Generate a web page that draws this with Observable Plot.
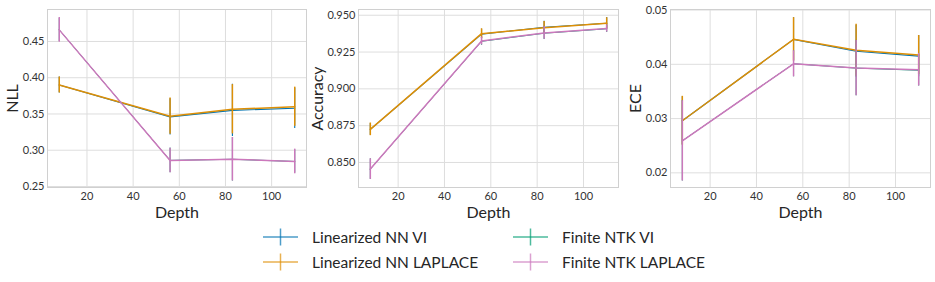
<!DOCTYPE html>
<html><head><meta charset="utf-8">
<script src="https://cdn.jsdelivr.net/npm/d3@7"></script>
<script src="https://cdn.jsdelivr.net/npm/@observablehq/plot@0.6"></script>
<style>
body{margin:0;background:#fff;}
#root{position:relative;width:935px;height:282px;font-family:Lato,sans-serif;color:#262626;}
.panel{position:absolute;top:0;}
.leg{position:absolute;display:flex;align-items:center;font-size:15.5px;height:20px;white-space:nowrap;}
.leg svg{margin-right:14px;}
</style></head><body><div id="root"></div>
<script>
// ---- data ----
const depths = [8, 56, 83, 110];
const methods = ["Linearized NN VI", "Linearized NN LAPLACE", "Finite NTK VI", "Finite NTK LAPLACE"];
const colors = ["#0173b2", "#de8f05", "#029e73", "#cc78bc"];
const xTicks = [20, 40, 60, 80, 100];

// one row per method, one value per depth
const nllMeans = [
  [0.390, 0.346, 0.355, 0.358],
  [0.390, 0.347, 0.3565, 0.360],
  [0.466, 0.286, 0.2875, 0.2845],
  [0.466, 0.2858, 0.2876, 0.2845]
];
const nllErrs = [
  [0.011, 0.025, 0.036, 0.028],
  [0.011, 0.025, 0.034, 0.027],
  [0.016, 0.017, 0.030, 0.016],
  [0.017, 0.017, 0.030, 0.017]
];
const accMeans = [
  [0.8725, 0.9372, 0.9418, 0.9446],
  [0.8725, 0.9375, 0.9415, 0.9445],
  [0.8455, 0.9323, 0.9378, 0.9408],
  [0.8455, 0.9325, 0.9380, 0.9410]
];
const accErrs = [
  [0.0040, 0.0033, 0.0042, 0.0038],
  [0.0043, 0.0033, 0.0043, 0.0038],
  [0.0070, 0.0027, 0.0043, 0.0025],
  [0.0070, 0.0027, 0.0043, 0.0025]
];
const eceMeans = [
  [0.0296, 0.0446, 0.0424, 0.0415],
  [0.0296, 0.0446, 0.0426, 0.0417],
  [0.0259, 0.0401, 0.0393, 0.0389],
  [0.0259, 0.0401, 0.0393, 0.0390]
];
const eceErrs = [
  [0.0044, 0.0040, 0.0048, 0.0038],
  [0.0045, 0.0040, 0.0048, 0.0036],
  [0.0074, 0.0024, 0.0051, 0.0029],
  [0.0074, 0.0024, 0.0051, 0.0030]
];
const nllTicks = [0.25, 0.30, 0.35, 0.40, 0.45];
const accTicks = [0.850, 0.875, 0.900, 0.925, 0.950];
const eceTicks = [0.02, 0.03, 0.04, 0.05];

// ---- styles ----
const widths = [1.1, 1.5, 1.0, 1.5];

// ---- layout ----
const panels = [
  {label: "NLL", means: nllMeans, errs: nllErrs, ticks: nllTicks, fmt: ".2f", domain: [0.2486, 0.4941], left: 0, width: 310, ml: 47, mr: 4, ldx: -35},
  {label: "Accuracy", means: accMeans, errs: accErrs, ticks: accTicks, fmt: ".3f", domain: [0.8330, 0.9539], left: 310, width: 312, ml: 48, mr: 4, ldx: -41},
  {label: "ECE", means: eceMeans, errs: eceErrs, ticks: eceTicks, fmt: ".2f", domain: [0.0173, 0.0501], left: 622, width: 313, ml: 48, mr: 5, ldx: -35}
];

const root = document.getElementById("root");

for (const p of panels) {
  const rows = [];
  methods.forEach((m, i) => depths.forEach((d, j) => rows.push({method: m, depth: d, mean: p.means[i][j], err: p.errs[i][j]})));
  const marks = [
    Plot.gridX(xTicks, {stroke: "#dedede", strokeOpacity: 1, strokeWidth: 1}),
    Plot.gridY(p.ticks, {stroke: "#dedede", strokeOpacity: 1, strokeWidth: 1}),
    Plot.frame({stroke: "#d0d0d0", strokeWidth: 1}),
    Plot.axisX(xTicks, {tickSize: 0, tickPadding: 5, label: null, fontSize: 11, fill: "#333"}),
    Plot.axisY(p.ticks, {tickSize: 0, tickPadding: 3, tickFormat: d3.format(p.fmt), label: null, fontSize: 11, fill: "#333"})
  ];
  methods.forEach((m, i) => {
    const sub = rows.filter(r => r.method === m);
    marks.push(Plot.ruleX(sub, {x: "depth", y1: r => r.mean - r.err, y2: r => r.mean + r.err, stroke: "method", strokeWidth: widths[i]}));
    marks.push(Plot.line(sub, {x: "depth", y: "mean", stroke: "method", strokeWidth: widths[i]}));
  });
  marks.push(Plot.text([p.label], {frameAnchor: "left", dx: p.ldx, rotate: -90, textAnchor: "middle", lineAnchor: "middle", fontSize: 16, fill: "#262626"}));
  marks.push(Plot.text(["Depth"], {frameAnchor: "bottom", dy: 25, textAnchor: "middle", lineAnchor: "middle", fontSize: 16, fill: "#262626"}));

  const chart = Plot.plot({
    width: p.width, height: 230,
    marginTop: 9, marginBottom: 43, marginLeft: p.ml, marginRight: p.mr,
    style: {fontFamily: "Lato, sans-serif", background: "transparent", overflow: "visible"},
    x: {domain: [2.9, 115.1]},
    y: {domain: p.domain},
    color: {domain: methods, range: colors},
    marks
  });
  chart.classList.add("panel");
  chart.style.left = p.left + "px";
  root.appendChild(chart);
}

// ---- legend ----
const legPos = [[263, 237], [263, 262], [513, 237], [513, 262]];
methods.forEach((m, i) => {
  const div = document.createElement("div");
  div.className = "leg";
  div.style.left = legPos[i][0] + "px";
  div.style.top = (legPos[i][1] - 10) + "px";
  div.innerHTML = `<svg width="35" height="20"><line x1="0" x2="35" y1="10" y2="10" stroke="${colors[i]}" stroke-opacity="0.7" stroke-width="1.5"/><line x1="17.5" x2="17.5" y1="1.5" y2="18.5" stroke="${colors[i]}" stroke-opacity="0.7" stroke-width="1.5"/></svg><span>${m}</span>`;
  root.appendChild(div);
});
</script></body></html>
